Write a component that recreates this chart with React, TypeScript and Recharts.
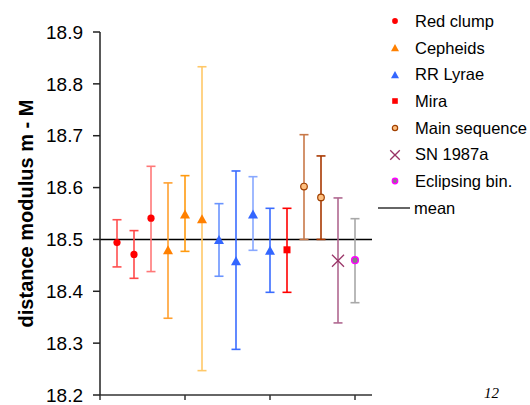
import React from 'react';
import { ComposedChart, Scatter, ErrorBar, XAxis, YAxis, ReferenceLine, Label } from 'recharts';

// distance modulus estimates
const positions = [1, 2, 3, 4, 5, 6, 7, 8, 9, 10, 11, 12, 13, 14, 15];
const methods = [
  'Red clump', 'Red clump', 'Red clump',
  'Cepheids', 'Cepheids', 'Cepheids',
  'RR Lyrae', 'RR Lyrae', 'RR Lyrae', 'RR Lyrae',
  'Mira',
  'Main sequence', 'Main sequence',
  'SN 1987a',
  'Eclipsing bin.',
];
const values = [18.494, 18.471, 18.541, 18.479, 18.548, 18.539, 18.499, 18.458, 18.548, 18.478, 18.48, 18.602, 18.581, 18.459, 18.46];
const upper = [18.538, 18.517, 18.641, 18.609, 18.623, 18.833, 18.569, 18.632, 18.621, 18.56, 18.56, 18.702, 18.661, 18.58, 18.54];
const lower = [18.447, 18.425, 18.438, 18.348, 18.477, 18.247, 18.429, 18.288, 18.479, 18.398, 18.398, 18.5, 18.5, 18.339, 18.378];
const barColors = [
  '#ff5050', '#ff4848', '#ff7878',
  '#ffa030', '#ff9a10', '#ffc868',
  '#6a94ff', '#3a6cff', '#88a8ff', '#3a6cff',
  '#ff0000',
  '#c87848', '#a83800',
  '#b06890',
  '#a8a8a8',
];

const meanValue = 18.5;
const yTicks = [18.2, 18.3, 18.4, 18.5, 18.6, 18.7, 18.8, 18.9];
const xTicks = [0, 5, 10, 15];
const legendItems = ['Red clump', 'Cepheids', 'RR Lyrae', 'Mira', 'Main sequence', 'SN 1987a', 'Eclipsing bin.', 'mean'];

const FONT = '"Liberation Sans", Arial, sans-serif';

function Marker({ kind, cx, cy, small }: { kind: string; cx: number; cy: number; small?: boolean }) {
  const s = small ? 0.8 : 1;
  switch (kind) {
    case 'Red clump':
      return <circle cx={cx} cy={cy} r={3.6 * s} fill="#ff0000" />;
    case 'Cepheids':
      return <polygon points={`${cx},${cy - 5 * s} ${cx - 5 * s},${cy + 4 * s} ${cx + 5 * s},${cy + 4 * s}`} fill="#ff8000" />;
    case 'RR Lyrae':
      return <polygon points={`${cx},${cy - 5 * s} ${cx - 5 * s},${cy + 4 * s} ${cx + 5 * s},${cy + 4 * s}`} fill="#3366ff" />;
    case 'Mira':
      return <rect x={cx - 3.5 * s} y={cy - 3.5 * s} width={7 * s} height={7 * s} fill="#ff0000" />;
    case 'Main sequence':
      return <circle cx={cx} cy={cy} r={3.3 * s} fill="#ffc080" stroke="#a04000" strokeWidth={1.2} />;
    case 'SN 1987a':
      return (
        <g stroke="#993366" strokeWidth={1.3}>
          <line x1={cx - 6 * s} y1={cy - 6 * s} x2={cx + 6 * s} y2={cy + 6 * s} />
          <line x1={cx - 6 * s} y1={cy + 6 * s} x2={cx + 6 * s} y2={cy - 6 * s} />
        </g>
      );
    case 'Eclipsing bin.':
      return <circle cx={cx} cy={cy} r={3.3 * s} fill="#808080" stroke="#ff00ff" strokeWidth={1.5} />;
    default:
      return null;
  }
}

function Legend() {
  return (
    <div style={{ position: 'absolute', left: 376, top: 8, fontFamily: FONT, fontSize: 16.5, color: '#000' }}>
      {legendItems.map((name) => (
        <div key={name} style={{ height: 26.7, display: 'flex', alignItems: 'center' }}>
          <svg width={38} height={20} style={{ flex: 'none' }}>
            {name === 'mean' ? (
              <line x1={2} y1={10} x2={34} y2={10} stroke="#000" strokeWidth={1.2} />
            ) : (
              <Marker kind={name} cx={19} cy={10} small />
            )}
          </svg>
          <span style={{ marginLeft: name === 'mean' ? 0 : 1 }}>{name}</span>
        </div>
      ))}
    </div>
  );
}

export default function App() {
  const points = positions.map((x, i) => ({
    x,
    y: values[i],
    err: [values[i] - lower[i], upper[i] - values[i]],
  }));

  return (
    <div style={{ position: 'absolute', left: 0, top: 0, width: 530, height: 405, background: '#fff', overflow: 'hidden' }}>
      <ComposedChart width={530} height={405} margin={{ top: 32, right: 158, left: 0, bottom: 0 }}>
        <XAxis
          type="number"
          dataKey="x"
          domain={[0, 16]}
          ticks={xTicks}
          tickFormatter={() => ''}
          height={10}
          tickSize={5}
          stroke="#333"
          strokeWidth={1.5}
        />
        <YAxis
          type="number"
          dataKey="y"
          domain={[18.2, 18.9]}
          ticks={yTicks}
          interval={0}
          tickFormatter={(v: number) => v.toFixed(1)}
          width={100}
          tickSize={7}
          tickMargin={10}
          stroke="#222"
          strokeWidth={1.5}
          tick={{ fill: '#000', fontSize: 19, fontFamily: FONT }}
        >
          <Label
            content={({ viewBox }: any) => {
              const cx = viewBox.x + 26;
              const cy = viewBox.y + viewBox.height / 2;
              return (
                <text
                  x={cx}
                  y={cy}
                  transform={`rotate(-90 ${cx} ${cy})`}
                  textAnchor="middle"
                  dominantBaseline="central"
                  fontFamily={FONT}
                  fontWeight="bold"
                  fontSize={20}
                  fill="#000"
                >
                  distance modulus m - M
                </text>
              );
            }}
          />
        </YAxis>
        <ReferenceLine y={meanValue} stroke="#000" strokeWidth={1.5} />
        {points.map((p, i) => (
          <Scatter
            key={i}
            data={[p]}
            isAnimationActive={false}
            shape={(props: any) => <Marker kind={methods[i]} cx={props.cx} cy={props.cy} />}
          >
            <ErrorBar dataKey="err" direction="y" width={4.5} stroke={barColors[i]} strokeWidth={1.6} />
          </Scatter>
        ))}
      </ComposedChart>
      <Legend />
      <div
        style={{
          position: 'absolute',
          left: 484,
          top: 385,
          fontFamily: '"Liberation Serif", serif',
          fontStyle: 'italic',
          fontSize: 15,
          lineHeight: '17px',
          color: '#000',
        }}
      >
        12
      </div>
    </div>
  );
}
